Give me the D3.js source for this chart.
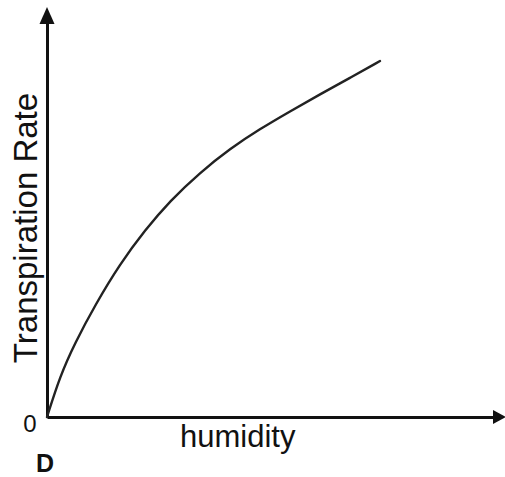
<!DOCTYPE html>
<html>
<head>
<meta charset="utf-8">
<script src="https://cdn.jsdelivr.net/npm/d3@7"></script>
<style>
  html, body { margin: 0; padding: 0; background: #fff; }
  svg { display: block; }
  .axis-label { font-family: "Liberation Sans", Arial, sans-serif; fill: #111; }
</style>
</head>
<body>
<svg id="chart"></svg>
<script>
// humidity (x) and transpiration rate (y), arbitrary units 0-100
const humidity = [0, 2.9, 6.2, 10.7, 16.2, 21.8, 27.3, 34, 40.7, 47.3, 54, 60.7, 67.3, 74];
const transpiration = [0, 10.25, 18.5, 28, 38.25, 46.75, 54, 61.1, 67.1, 72, 76.4, 80.7, 84.75, 89];

const xLabel = "humidity";
const yLabel = "Transpiration Rate";
const originLabel = "0";
const panelLabel = "D";

const W = 505, H = 477;
const svg = d3.select("#chart").attr("width", W).attr("height", H);

svg.append("rect").attr("width", W).attr("height", H).attr("fill", "#fff");

const x = d3.scaleLinear().domain([0, 100]).range([47, 497]);
const y = d3.scaleLinear().domain([0, 100]).range([417, 17]);

const data = humidity.map((h, i) => ({ h, t: transpiration[i] }));

// Axes: no ticks, only the domain line with an arrowhead
const xAxisG = svg.append("g")
  .attr("transform", `translate(0,${y(0)})`)
  .call(d3.axisBottom(x).tickValues([]).tickSizeOuter(0));
xAxisG.select(".domain").attr("stroke", "#111").attr("stroke-width", 3);

const yAxisG = svg.append("g")
  .attr("transform", `translate(${x(0)},0)`)
  .call(d3.axisLeft(y).tickValues([]).tickSizeOuter(0));
yAxisG.select(".domain").attr("stroke", "#111").attr("stroke-width", 3);

// arrowheads at the ends of the axes
svg.append("path")
  .attr("transform", `translate(${x(100)},${y(0)})`)
  .attr("d", "M-4,-7L9,0L-4,7Z")
  .attr("fill", "#111");

svg.append("path")
  .attr("transform", `translate(${x(0)},${y(100)})`)
  .attr("d", "M-7.5,7L0,-10L7.5,7Z")
  .attr("fill", "#111");

// curve
const line = d3.line()
  .x(d => x(d.h))
  .y(d => y(d.t))
  .curve(d3.curveBasis);

svg.append("path")
  .datum(data)
  .attr("d", line)
  .attr("fill", "none")
  .attr("stroke", "#222")
  .attr("stroke-width", 2.4)
  .attr("stroke-linecap", "round");

// labels
svg.append("text")
  .attr("class", "axis-label")
  .attr("x", 180)
  .attr("y", 447)
  .attr("font-size", 31)
  .text(xLabel);

svg.append("text")
  .attr("class", "axis-label")
  .attr("transform", "translate(37,228) rotate(-90)")
  .attr("text-anchor", "middle")
  .attr("font-size", 33)
  .text(yLabel);

svg.append("text")
  .attr("class", "axis-label")
  .attr("x", 30)
  .attr("y", 432)
  .attr("text-anchor", "middle")
  .attr("font-size", 24)
  .text(originLabel);

svg.append("text")
  .attr("class", "axis-label")
  .attr("x", 45)
  .attr("y", 472)
  .attr("text-anchor", "middle")
  .attr("font-size", 25)
  .attr("font-weight", "bold")
  .text(panelLabel);
</script>
</body>
</html>
